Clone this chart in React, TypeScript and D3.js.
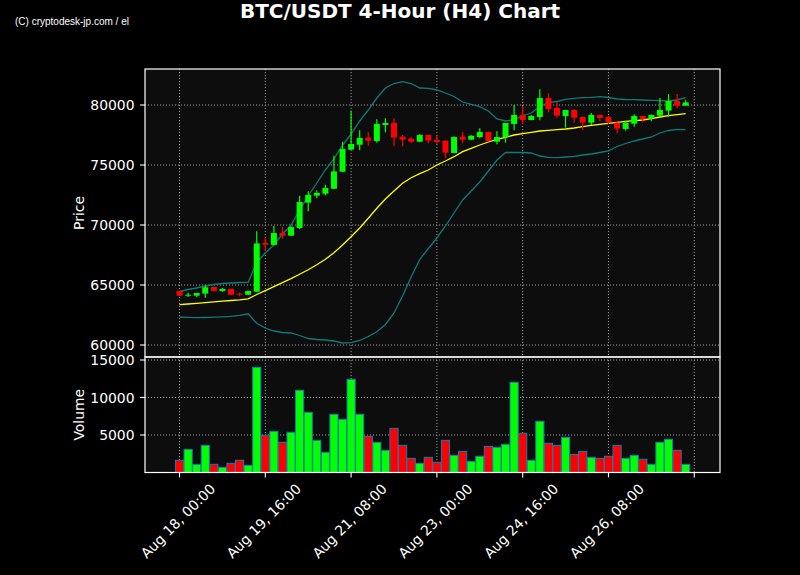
import React from "react";
import * as d3 from "d3";

// ---- data ----
const START = "2024-08-18T00:00:00Z"; // first candle, 4-hour bars
const OPEN = [64500, 64120, 64110, 64280, 64830, 64500, 64670, 64275, 64190, 64440, 68500, 68340, 69330, 69110, 69750, 71860, 72440, 72610, 73020, 74440, 76280, 76690, 77280, 77000, 78330, 78500, 77360, 77190, 76940, 77500, 77080, 77030, 76000, 77360, 77110, 77330, 77750, 76940, 77330, 78420, 79170, 78750, 79000, 80580, 79750, 79080, 79580, 79000, 78530, 79170, 79000, 78530, 78000, 78440, 79080, 78890, 79110, 79530, 80330, 79940];
const HIGH = [64520, 64360, 64350, 64975, 64850, 64750, 64690, 64360, 64520, 69470, 68975, 69920, 69860, 69940, 72440, 72810, 72890, 73360, 75775, 76940, 79530, 77890, 77720, 78810, 78890, 78890, 77500, 77360, 77580, 77520, 77420, 77050, 77400, 77780, 77470, 78060, 77780, 77810, 78500, 80000, 79920, 79170, 81310, 80975, 80220, 79600, 79670, 79020, 79330, 79190, 79080, 78560, 78690, 79220, 79100, 79200, 80580, 80920, 80920, 80440];
const LOW = [64080, 64000, 63970, 63940, 64480, 64420, 64170, 64060, 64170, 64400, 67830, 68300, 68860, 69090, 69670, 71140, 72220, 72470, 73000, 74400, 76250, 76220, 76610, 76860, 77720, 76560, 76560, 76860, 76940, 76810, 76780, 75560, 75980, 76810, 77090, 77220, 76970, 76720, 76860, 77890, 78420, 78720, 78720, 79390, 78890, 78110, 78520, 77920, 78330, 78640, 78420, 77640, 77860, 78190, 78580, 78640, 79000, 79000, 79750, 79940];
const CLOSE = [64110, 64190, 64330, 64810, 64500, 64670, 64190, 64190, 64500, 68470, 68360, 69330, 69110, 69830, 71920, 72500, 72670, 73080, 74470, 76330, 76750, 77250, 77030, 78420, 78500, 77280, 77110, 76940, 77500, 77030, 76920, 76030, 77330, 77110, 77440, 77750, 77000, 77330, 78500, 79170, 78750, 79080, 80580, 79670, 79110, 79580, 78940, 78530, 79170, 78920, 78580, 78030, 78530, 79080, 78830, 79170, 79580, 80330, 79940, 80220];
const VOLUME = [1630, 3090, 1090, 3620, 1090, 690, 1220, 1630, 960, 14030, 4960, 5490, 4030, 5360, 10960, 8030, 4290, 2690, 7760, 7090, 12430, 7760, 4820, 4030, 2960, 5890, 3620, 1890, 1220, 2020, 1360, 4290, 2290, 2820, 1490, 2160, 3490, 3360, 3760, 12030, 5230, 1630, 6830, 3890, 3620, 4690, 2420, 2820, 2020, 1890, 2160, 3620, 1890, 2290, 1760, 1090, 4030, 4430, 2960, 1090];
const MA = [63358, 63417, 63475, 63533, 63592, 63650, 63708, 63767, 63850, 64208, 64525, 64858, 65192, 65525, 65892, 66275, 66692, 67142, 67692, 68333, 69025, 69750, 70558, 71392, 72167, 72833, 73475, 73942, 74275, 74583, 75000, 75333, 75692, 76108, 76392, 76667, 76917, 77142, 77308, 77500, 77608, 77725, 77833, 77892, 77942, 78000, 78083, 78192, 78308, 78392, 78475, 78558, 78642, 78692, 78750, 78858, 79000, 79108, 79192, 79275];
const BB_UPPER = [64458, 64625, 64750, 64917, 65042, 65125, 65167, 65208, 65225, 66875, 67667, 68333, 69250, 70000, 71250, 72417, 73500, 74583, 75500, 76667, 77583, 78667, 79583, 80583, 81417, 81792, 81942, 81792, 81417, 81392, 81250, 81000, 80708, 80250, 80042, 79858, 79500, 78833, 78667, 78750, 79125, 79333, 79875, 80192, 80292, 80475, 80558, 80608, 80642, 80692, 80625, 80500, 80458, 80442, 80417, 80392, 80358, 80333, 80417, 80608];
const BB_LOWER = [62333, 62308, 62275, 62292, 62317, 62350, 62392, 62475, 62600, 61808, 61417, 61167, 61042, 61000, 60792, 60542, 60458, 60417, 60333, 60167, 60192, 60375, 60708, 61108, 61708, 62667, 64083, 65667, 67125, 68042, 68917, 69917, 71000, 72083, 72833, 73583, 74500, 75417, 76042, 76042, 76042, 76000, 75750, 75642, 75608, 75667, 75725, 75833, 75917, 76042, 76183, 76542, 76792, 77000, 77167, 77333, 77667, 77875, 77975, 77942];
const PRICE_TICKS = [60000, 65000, 70000, 75000, 80000];
const VOLUME_TICKS = [5000, 10000, 15000];
const X_TICK_TIMES = ["2024-08-18T00:00:00Z", "2024-08-19T16:00:00Z", "2024-08-21T08:00:00Z", "2024-08-23T00:00:00Z", "2024-08-24T16:00:00Z", "2024-08-26T08:00:00Z", "2024-08-28T00:00:00Z"];
const X_TICK_LABELS = ["Aug 18, 00:00", "Aug 19, 16:00", "Aug 21, 08:00", "Aug 23, 00:00", "Aug 24, 16:00", "Aug 26, 08:00", ""];
const TITLE = "BTC/USDT 4-Hour (H4) Chart";
const WATERMARK = "(C) cryptodesk-jp.com / el";

const HOUR = 3600 * 1000;
const t0 = new Date(START).getTime();
const DATES = OPEN.map((_, i) => new Date(t0 + i * 4 * HOUR));

export default function App() {
  const W = 800, H = 575;
  const L = 145, R = 720;
  const pTop = 69, pBot = 357, vTop = 357, vBot = 472.5;
  const font = "'DejaVu Sans', sans-serif";

  const x = d3.scaleUtc()
    .domain([new Date(t0 - 16.1 * HOUR), new Date(t0 + 252 * HOUR)])
    .range([L, R]);
  const yP = d3.scaleLinear().domain([59000, 83000]).range([pBot, pTop]);
  const yV = d3.scaleLinear().domain([0, 15400]).range([vBot, vTop]);

  const step = x(DATES[1]) - x(DATES[0]);
  const bodyW = step * 0.7;
  const volW = step * 0.95;

  const line = (vals: number[]) =>
    d3.line<number>().x((_, i) => x(DATES[i])).y((v) => yP(v))(vals) || "";

  const tickDates = X_TICK_TIMES.map((s) => new Date(s));
  const gridColor = "#9a9a9a";
  const dash = "1.1,1.9";
  const green = "#00ff00", red = "#ff0000";

  return (
    <svg width={W} height={H} style={{ position: "absolute", left: 0, top: 0, background: "#000" }}>
      <rect x={0} y={0} width={W} height={H} fill="#000" />
      <text x={400} y={18} textAnchor="middle" fill="#fff" fontFamily={font} fontWeight="bold" fontSize={20}>{TITLE}</text>
      <text x={15} y={24.5} fill="#fff" fontFamily="'Liberation Sans Narrow', 'Liberation Sans', sans-serif" fontSize={10}>{WATERMARK}</text>

      {/* panels */}
      <rect x={L} y={pTop} width={R - L} height={pBot - pTop} fill="#0d0d0d" />
      <rect x={L} y={vTop} width={R - L} height={vBot - vTop} fill="#0d0d0d" />

      {/* grids */}
      {PRICE_TICKS.map((t) => (
        <line key={"pg" + t} x1={L} x2={R} y1={yP(t)} y2={yP(t)} stroke={gridColor} strokeDasharray={dash} strokeWidth={1} />
      ))}
      {VOLUME_TICKS.map((t) => (
        <line key={"vg" + t} x1={L} x2={R} y1={yV(t)} y2={yV(t)} stroke={gridColor} strokeDasharray={dash} strokeWidth={1} />
      ))}
      {tickDates.map((d, i) => (
        <g key={"xg" + i}>
          <line x1={x(d)} x2={x(d)} y1={pTop} y2={pBot} stroke={gridColor} strokeDasharray={dash} strokeWidth={1} />
          <line x1={x(d)} x2={x(d)} y1={vTop} y2={vBot} stroke={gridColor} strokeDasharray={dash} strokeWidth={1} />
        </g>
      ))}

      {/* bollinger bands & MA */}
      <path d={line(BB_UPPER)} fill="none" stroke="#107a7a" strokeWidth={1.3} />
      <path d={line(BB_LOWER)} fill="none" stroke="#107a7a" strokeWidth={1.3} />
      <path d={line(MA)} fill="none" stroke="#ffff00" strokeWidth={1.3} />

      {/* candles */}
      {DATES.map((d, i) => {
        const up = CLOSE[i] >= OPEN[i];
        const c = up ? green : red;
        const cx = x(d);
        const top = yP(Math.max(OPEN[i], CLOSE[i]));
        const bot = yP(Math.min(OPEN[i], CLOSE[i]));
        return (
          <g key={"c" + i}>
            <line x1={cx} x2={cx} y1={yP(HIGH[i])} y2={yP(LOW[i])} stroke={c} strokeWidth={1.2} />
            <rect x={cx - bodyW / 2} y={top} width={bodyW} height={Math.max(1, bot - top)} fill={c} />
          </g>
        );
      })}

      {/* volume bars */}
      {DATES.map((d, i) => {
        const up = CLOSE[i] >= OPEN[i];
        return (
          <rect key={"v" + i} x={x(d) - volW / 2} y={yV(VOLUME[i])} width={volW} height={vBot - yV(VOLUME[i])}
            fill={up ? green : red} stroke="#1f77b4" strokeWidth={1} />
        );
      })}

      {/* spines */}
      <rect x={L} y={pTop} width={R - L} height={pBot - pTop} fill="none" stroke="#fff" strokeWidth={1.2} />
      <rect x={L} y={vTop} width={R - L} height={vBot - vTop} fill="none" stroke="#fff" strokeWidth={1.2} />

      {/* y ticks */}
      {PRICE_TICKS.map((t) => (
        <g key={"pt" + t}>
          <line x1={L - 4.9} x2={L} y1={yP(t)} y2={yP(t)} stroke="#fff" strokeWidth={1.1} />
          <text x={L - 10.5} y={yP(t)} dy="0.36em" textAnchor="end" fill="#fff" fontFamily={font} fontSize={13.9}>{t}</text>
        </g>
      ))}
      {VOLUME_TICKS.map((t) => (
        <g key={"vt" + t}>
          <line x1={L - 4.9} x2={L} y1={yV(t)} y2={yV(t)} stroke="#fff" strokeWidth={1.1} />
          <text x={L - 10.5} y={yV(t)} dy="0.36em" textAnchor="end" fill="#fff" fontFamily={font} fontSize={13.9}>{t}</text>
        </g>
      ))}

      {/* x ticks */}
      {tickDates.map((d, i) => (
        <g key={"xt" + i}>
          <line x1={x(d)} x2={x(d)} y1={vBot} y2={vBot + 4.9} stroke="#fff" strokeWidth={1.1} />
          <text transform={`translate(${x(d) - 1.5},521) rotate(-45)`} textAnchor="middle" dy="0.35em" fill="#fff" fontFamily={font} fontSize={13.9}>{X_TICK_LABELS[i]}</text>
        </g>
      ))}

      {/* axis labels */}
      <text transform={`translate(84,${(pTop + pBot) / 2}) rotate(-90)`} textAnchor="middle" fill="#fff" fontFamily={font} fontSize={13.9}>Price</text>
      <text transform={`translate(84,${(vTop + vBot) / 2}) rotate(-90)`} textAnchor="middle" fill="#fff" fontFamily={font} fontSize={13.9}>Volume</text>
    </svg>
  );
}
